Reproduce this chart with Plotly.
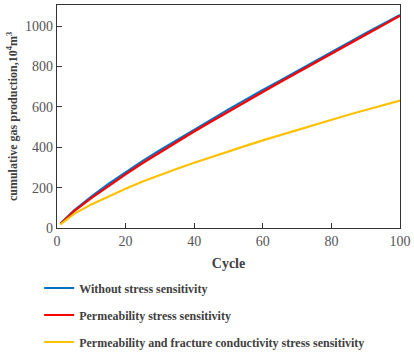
import plotly.graph_objects as go

cycles = [1, 2, 5, 10, 15, 20, 25, 30, 35, 40, 45, 50, 55, 60, 65, 70, 75, 80, 85, 90, 95, 100]
without_ss = [22, 38, 88, 155, 218, 275, 333, 385, 437, 487, 537, 588, 638, 684, 730, 778, 825, 872, 918, 965, 1010, 1056]
perm_ss = [20, 35, 84, 148, 209, 266, 322, 375, 427, 478, 528, 578, 628, 674, 722, 770, 817, 864, 910, 958, 1004, 1052]
perm_frac_ss = [18, 30, 70, 117, 158, 195, 230, 263, 294, 323, 352, 380, 407, 434, 460, 486, 511, 536, 561, 585, 608, 631]

names = ["Without stress sensitivity", "Permeability stress sensitivity",
         "Permeability and fracture conductivity stress sensitivity"]
colors = ["#0070C0", "#FF0000", "#FFC000"]

serif = "Liberation Serif, Times New Roman, serif"
fig = go.Figure()
for i, (ys, nm, c) in enumerate(zip([without_ss, perm_ss, perm_frac_ss], names, colors)):
    fig.add_trace(go.Scatter(x=cycles, y=ys, mode="lines", name="<b>" + nm + "</b>",
                             line=dict(color=c, width=2.2), legendgroup=str(i)))

axis_common = dict(showline=True, linecolor="#333333", linewidth=1.2, mirror=True,
                   ticks="inside", ticklen=5, tickcolor="#333333", showgrid=False,
                   zeroline=False, tickfont=dict(family=serif, size=14, color="#555555"))
fig.update_layout(
    width=414, height=354,
    margin=dict(l=57, r=14, t=5, b=125.5, autoexpand=False),
    plot_bgcolor="white", paper_bgcolor="white",
    xaxis=dict(range=[0, 100], tickvals=[0, 20, 40, 60, 80, 100],
               title=dict(text="<b>Cycle</b>", font=dict(family=serif, size=14, color="#404040"), standoff=10),
               **axis_common),
    yaxis=dict(range=[0, 1105], tickvals=[0, 200, 400, 600, 800, 1000],
               title=dict(text="<b>cumulative gas production,10<sup>4</sup>m<sup>3</sup></b>",
                          font=dict(family=serif, size=12, color="#404040"), standoff=4),
               **axis_common),
    legend=dict(x=-0.052, y=-0.204, xanchor="left", yanchor="top",
                font=dict(family=serif, size=12, color="#404040"),
                tracegroupgap=8, bgcolor="rgba(0,0,0,0)"),
    showlegend=True,
)
fig.write_html("out.html", config={"displayModeBar": False},
               post_script="document.body.style.margin='0';document.body.style.overflow='hidden';")
